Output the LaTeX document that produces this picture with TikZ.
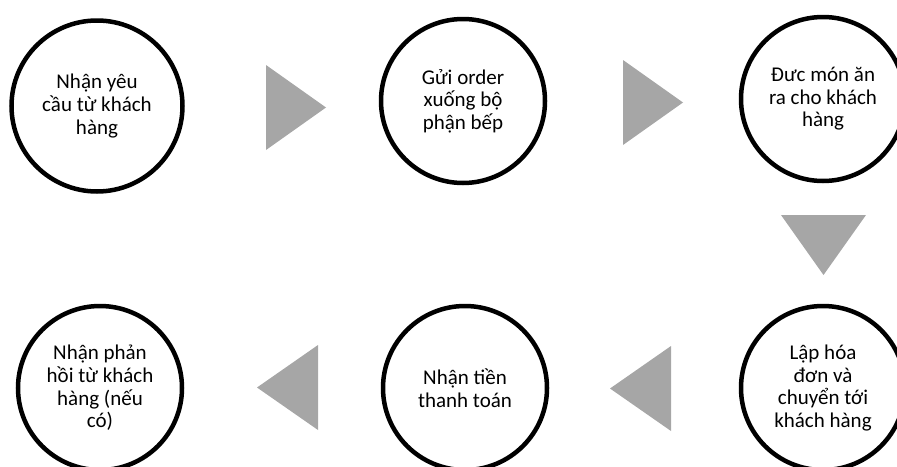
\documentclass[tikz,border=0pt]{standalone}
\usepackage{fontspec}
\setmainfont{Carlito}
\definecolor{arrowgray}{HTML}{A6A6A6}
\begin{document}
\begin{tikzpicture}[x=1pt,y=-1pt,
  stepcircle/.style={circle, draw=black, line width=4.5pt, fill=white, minimum size=164pt, inner sep=0pt, align=center, font=\fontsize{21}{22.6}\selectfont},
  arrowtri/.style={fill=arrowgray, draw=none}]
\useasboundingbox (0,0) rectangle (897,466);
\clip (0,0) rectangle (897,466);
\node[stepcircle, minimum size=171pt] (c1) at (97,106) {Nhận yêu\\cầu từ khách\\hàng};
\node[stepcircle] (c2) at (463,101) {Gửi order\\xuống bộ\\phận bếp};
\node[stepcircle] (c3) at (823,99) {Đưc món ăn\\ra cho khách\\hàng};
\node[stepcircle] (c4) at (823,388) {Lập hóa\\đơn và\\chuyển tới\\khách hàng};
\node[stepcircle] (c5) at (465,388) {Nhận tiền\\thanh toán};
\node[stepcircle] (c6) at (100,388) {Nhận phản\\hồi từ khách\\hàng (nếu\\có)};
% arrows
\fill[arrowtri] (266,65) -- (326,107.5) -- (266,150) -- cycle;
\fill[arrowtri] (623,60) -- (683,102.5) -- (623,145) -- cycle;
\fill[arrowtri] (781,215) -- (866,215) -- (823.5,275) -- cycle;
\fill[arrowtri] (671,346) -- (610,388.5) -- (671,431) -- cycle;
\fill[arrowtri] (318,345) -- (257,387.5) -- (318,430) -- cycle;
\end{tikzpicture}
\end{document}
